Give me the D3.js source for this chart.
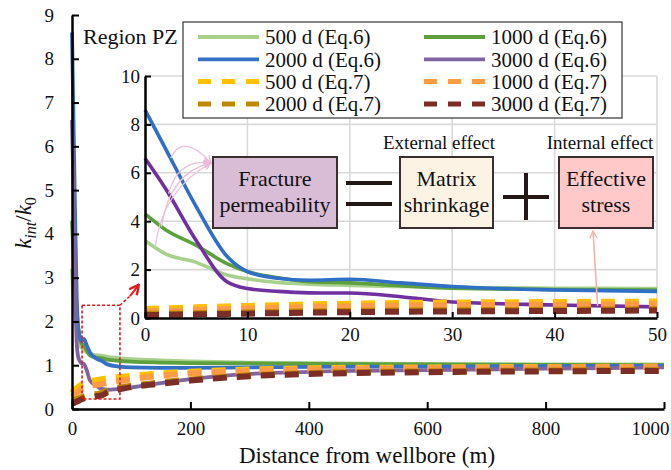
<!DOCTYPE html>
<html>
<head>
<meta charset="utf-8">
<script src="https://cdn.jsdelivr.net/npm/d3@7"></script>
</head>
<body style="margin:0">
<div id="wrapper"></div>
<script>
// ---- data ----
const distance = [0, 2, 5, 8, 10, 13, 16, 20, 25, 30, 40, 50, 60, 80, 100, 150, 200, 300, 400, 600, 800, 1000];

const eq6_500d  = [3.2, 2.65, 2.3, 1.78, 1.62, 1.47, 1.4, 1.35, 1.3, 1.26, 1.23, 1.22, 1.19, 1.16, 1.14, 1.11, 1.09, 1.06, 1.05, 1.03, 1.02, 1.02];
const eq6_1000d = [4.3, 3.65, 3.0, 2.25, 1.92, 1.66, 1.5, 1.45, 1.33, 1.23, 1.18, 1.16, 1.13, 1.1, 1.08, 1.06, 1.05, 1.04, 1.03, 1.02, 1.01, 1.0];
const eq6_2000d = [8.6, 7.0, 4.6, 2.55, 1.92, 1.64, 1.56, 1.6, 1.45, 1.3, 1.16, 1.1, 1.02, 0.97, 0.95, 0.94, 0.94, 0.95, 0.96, 0.97, 0.98, 0.99];
const eq6_3000d = [6.6, 5.35, 3.2, 1.5, 1.22, 1.1, 1.04, 1.03, 0.88, 0.66, 0.54, 0.46, 0.44, 0.46, 0.49, 0.59, 0.68, 0.8, 0.85, 0.89, 0.92, 0.95];

const eq7_500d  = [0.37, 0.4, 0.44, 0.48, 0.5, 0.53, 0.56, 0.59, 0.62, 0.64, 0.66, 0.68, 0.7, 0.73, 0.76, 0.81, 0.85, 0.9, 0.93, 0.95, 0.96, 0.97];
const eq7_1000d = [0.27, 0.29, 0.33, 0.37, 0.39, 0.42, 0.45, 0.48, 0.51, 0.53, 0.55, 0.57, 0.6, 0.64, 0.68, 0.76, 0.81, 0.87, 0.9, 0.93, 0.95, 0.96];
const eq7_2000d = [0.17, 0.18, 0.2, 0.22, 0.23, 0.25, 0.27, 0.29, 0.31, 0.32, 0.34, 0.36, 0.42, 0.49, 0.53, 0.61, 0.67, 0.77, 0.82, 0.86, 0.88, 0.89];
const eq7_3000d = [0.12, 0.13, 0.15, 0.17, 0.18, 0.2, 0.22, 0.24, 0.26, 0.27, 0.29, 0.31, 0.38, 0.45, 0.5, 0.58, 0.65, 0.75, 0.8, 0.84, 0.86, 0.87];

const seriesNames = ["500 d (Eq.6)", "1000 d (Eq.6)", "2000 d (Eq.6)", "3000 d (Eq.6)",
                     "500 d (Eq.7)", "1000 d (Eq.7)", "2000 d (Eq.7)", "3000 d (Eq.7)"];
const seriesValues = [eq6_500d, eq6_1000d, eq6_2000d, eq6_3000d, eq7_500d, eq7_1000d, eq7_2000d, eq7_3000d];
const seriesColors = ["#a9d18e", "#5fa03e", "#3570c4", "#8064a2", "#ffc000", "#ff9b45", "#c08a00", "#7b2d26"];
const insetColors  = ["#a9d18e", "#5fa03e", "#2f6fc6", "#7030a0", "#ffc000", "#ff9b45", "#c08a00", "#7b2d26"];

const mainXTicks = [0, 200, 400, 600, 800, 1000];
const mainYTicks = [0, 1, 2, 3, 4, 5, 6, 7, 8, 9];
const insetXTicks = [0, 10, 20, 30, 40, 50];
const insetYTicks = [0, 2, 4, 6, 8, 10];

// ---- layout ----
const width = 671, height = 470;
const FONT = "'Liberation Serif'";

const svg = d3.select("#wrapper").append("svg")
  .attr("width", width)
  .attr("height", height);

// every text gets the serif face set directly
function label(parent, size) {
  return parent.append("text")
    .style("font-family", FONT)
    .attr("font-size", size)
    .attr("fill", "#111");
}

const defs = svg.append("defs");
function addHead(id, color, size, sw) {
  defs.append("marker")
    .attr("id", id)
    .attr("viewBox", "0 0 10 10")
    .attr("refX", 9).attr("refY", 5)
    .attr("markerWidth", size).attr("markerHeight", size)
    .attr("markerUnits", "userSpaceOnUse")
    .attr("orient", "auto")
    .append("path")
    .attr("d", "M1,1 L9,5 L1,9")
    .attr("fill", "none")
    .attr("stroke", color)
    .attr("stroke-width", sw);
}
addHead("pinkHead", "#e9b6d6", 9, 1.4);
addHead("salmonHead", "#f6b1aa", 9, 1.4);
addHead("redHead", "#e31a1a", 12, 2);

// main scales
const x = d3.scaleLinear().domain([0, 1000]).range([72, 664]);
const y = d3.scaleLinear().domain([0, 9]).range([409, 15]);

// inset scales
const xi = d3.scaleLinear().domain([0, 50]).range([145, 657]);
const yi = d3.scaleLinear().domain([0, 10]).range([318, 76]);

const rows = distance.map((d, i) => ({ d, v: seriesValues.map(s => s[i]) }));

function styleAxis(g, size) {
  g.attr("font-family", null).attr("font-size", null);
  g.select(".domain").attr("stroke", "#000").attr("stroke-width", 2.5);
  g.selectAll(".tick line").attr("stroke", "#000").attr("stroke-width", 2);
  g.selectAll(".tick text")
    .attr("font-size", size)
    .style("font-family", FONT)
    .attr("fill", "#111");
}

// ---- main curves ----
const mainG = svg.append("g");
seriesValues.forEach((vals, k) => {
  const dashed = k >= 4;
  const line = d3.line()
    .x(r => x(r.d))
    .y(r => y(r.v[k]))
    .curve(d3.curveMonotoneX);
  mainG.append("path")
    .attr("d", line(rows))
    .attr("fill", "none")
    .attr("stroke", seriesColors[k])
    .attr("stroke-width", dashed ? 6 : 3.8)
    .attr("stroke-dasharray", dashed ? "14,10" : null)
    .attr("stroke-linejoin", "round");
});

// main axes
const xAxis = d3.axisBottom(x).tickValues(mainXTicks).tickFormat(d3.format("d"))
  .tickSizeInner(-7).tickSizeOuter(0).tickPadding(13);
const gx = svg.append("g").attr("transform", `translate(0,${y(0)})`).call(xAxis);
const yAxis = d3.axisLeft(y).tickValues(mainYTicks).tickFormat(d3.format("d"))
  .tickSizeInner(-7).tickSizeOuter(0).tickPadding(18);
const gy = svg.append("g").attr("transform", `translate(${x(0)},0)`).call(yAxis);
styleAxis(gx, 19);
styleAxis(gy, 19);
// last label sits left of its tick so it stays inside the frame
gx.selectAll(".tick text").filter(d => d === 1000).attr("dx", -14);

label(svg, 23)
  .attr("x", 367).attr("y", 463)
  .attr("text-anchor", "middle")
  .text("Distance from wellbore (m)");

const ylab = label(svg, 23)
  .attr("transform", "translate(31,223) rotate(-90)")
  .attr("text-anchor", "middle");
ylab.append("tspan").attr("font-style", "italic").text("k");
ylab.append("tspan").attr("font-style", "italic").attr("font-size", 16).attr("dy", 5).text("int");
ylab.append("tspan").attr("dy", -5).text("/");
ylab.append("tspan").attr("font-style", "italic").text("k");
ylab.append("tspan").attr("font-size", 16).attr("dy", 5).text("0");

// red dashed zoom box + arrow
svg.append("rect")
  .attr("x", x(17)).attr("y", y(2.37))
  .attr("width", x(81) - x(17)).attr("height", y(0.23) - y(2.37))
  .attr("fill", "none")
  .attr("stroke", "#e31a1a")
  .attr("stroke-width", 1.6)
  .attr("stroke-dasharray", "3,2");
svg.append("line")
  .attr("x1", x(81)).attr("y1", y(2.37))
  .attr("x2", x(98)).attr("y2", y(2.58))
  .attr("stroke", "#e31a1a").attr("stroke-width", 1.6).attr("stroke-dasharray", "3,2");
svg.append("line")
  .attr("x1", x(98)).attr("y1", y(2.58))
  .attr("x2", x(113)).attr("y2", y(2.84))
  .attr("stroke", "#e31a1a").attr("stroke-width", 2)
  .attr("marker-end", "url(#redHead)");

// ---- inset ----
const insetG = svg.append("g");
insetG.append("rect")
  .attr("x", xi(0)).attr("y", yi(10))
  .attr("width", xi(50) - xi(0)).attr("height", yi(0) - yi(10))
  .attr("fill", "#fff");
insetG.selectAll(".vgrid").data(insetXTicks.slice(1)).join("line")
  .attr("x1", d => xi(d)).attr("x2", d => xi(d))
  .attr("y1", yi(0)).attr("y2", yi(10))
  .attr("stroke", "#d9d9d9").attr("stroke-width", 1.6);
insetG.selectAll(".hgrid").data(insetYTicks.slice(1)).join("line")
  .attr("x1", xi(0)).attr("x2", xi(50))
  .attr("y1", d => yi(d)).attr("y2", d => yi(d))
  .attr("stroke", "#d9d9d9").attr("stroke-width", 1.6);

const insetRows = rows.filter(r => r.d <= 50);
seriesValues.forEach((vals, k) => {
  const dashed = k >= 4;
  const line = d3.line()
    .x(r => xi(r.d))
    .y(r => yi(r.v[k]))
    .curve(d3.curveMonotoneX);
  insetG.append("path")
    .attr("d", line(insetRows))
    .attr("fill", "none")
    .attr("stroke", insetColors[k])
    .attr("stroke-width", dashed ? 6 : 3.6)
    .attr("stroke-dasharray", dashed ? "14,10" : null)
    .attr("stroke-linejoin", "round");
});

const xiAxis = d3.axisBottom(xi).tickValues(insetXTicks).tickFormat(d3.format("d"))
  .tickSizeInner(-6).tickSizeOuter(0).tickPadding(10);
const gxi = insetG.append("g").attr("transform", `translate(0,${yi(0)})`).call(xiAxis);
const yiAxis = d3.axisLeft(yi).tickValues(insetYTicks).tickFormat(d3.format("d"))
  .tickSizeInner(-6).tickSizeOuter(0).tickPadding(5);
const gyi = insetG.append("g").attr("transform", `translate(${xi(0)},0)`).call(yiAxis);
styleAxis(gxi, 19);
styleAxis(gyi, 19);

// ---- region label + legend ----
label(svg, 22)
  .attr("x", 83).attr("y", 44)
  .text("Region PZ");

const legend = svg.append("g");
legend.append("rect")
  .attr("x", 183).attr("y", 22)
  .attr("width", 439).attr("height", 96)
  .attr("fill", "#fff")
  .attr("stroke", "#333")
  .attr("stroke-width", 1.2);
const legendItems = legend.selectAll(".item").data(seriesNames).join("g")
  .attr("transform", (d, i) => `translate(${i % 2 === 0 ? 198 : 424},${37 + Math.floor(i / 2) * 22.3})`);
legendItems.append("line")
  .attr("x1", 0).attr("x2", 61)
  .attr("stroke", (d, i) => seriesColors[i])
  .attr("stroke-width", (d, i) => i >= 4 ? 5 : 3.8)
  .attr("stroke-dasharray", (d, i) => i >= 4 ? "13,11" : null);
legendItems.append("text")
  .style("font-family", FONT)
  .attr("fill", "#111")
  .attr("x", 67).attr("dy", "0.35em")
  .attr("font-size", 21)
  .text(d => d);

// ---- diagram ----
const diag = svg.append("g");
const boxes = [
  { x: 213, y: 157, w: 124, h: 71, fill: "#d9bdd6", lines: ["Fracture", "permeability"] },
  { x: 400, y: 157, w: 93, h: 71, fill: "#fdf3e4", lines: ["Matrix", "shrinkage"] },
  { x: 559, y: 157, w: 94, h: 71, fill: "#ffc9c9", lines: ["Effective", "stress"] }
];
boxes.forEach(b => {
  diag.append("rect")
    .attr("x", b.x).attr("y", b.y).attr("width", b.w).attr("height", b.h)
    .attr("fill", b.fill).attr("stroke", "#3a2e2e").attr("stroke-width", 2);
  b.lines.forEach((t, j) => {
    label(diag, 22)
      .attr("x", b.x + b.w / 2).attr("y", b.y + 29 + j * 26)
      .attr("text-anchor", "middle")
      .text(t);
  });
});
label(diag, 19).attr("x", 439).attr("y", 149).attr("text-anchor", "middle").text("External effect");
label(diag, 19).attr("x", 600).attr("y", 149).attr("text-anchor", "middle").text("Internal effect");

// equals and plus
diag.append("rect").attr("x", 346).attr("y", 181).attr("width", 46).attr("height", 4).attr("fill", "#231815");
diag.append("rect").attr("x", 346).attr("y", 202).attr("width", 46).attr("height", 4).attr("fill", "#231815");
diag.append("rect").attr("x", 503).attr("y", 195).attr("width", 46).attr("height", 4).attr("fill", "#231815");
diag.append("rect").attr("x", 524).attr("y", 173).attr("width", 4).attr("height", 47).attr("fill", "#231815");

// pink arrows from curves to fracture box
const arrowStarts = [
  { d: 1.0, k: 0, c: [162, 190] },
  { d: 1.6, k: 1, c: [170, 172] },
  { d: 2.3, k: 3, c: [178, 158] },
  { d: 2.5, k: 2, c: [183, 132] }
];
arrowStarts.forEach(a => {
  const v = d3.scaleLinear().domain(distance).range(seriesValues[a.k])(a.d);
  diag.append("path")
    .attr("d", `M${xi(a.d)},${yi(v)} Q${a.c[0]},${a.c[1]} 211,163`)
    .attr("fill", "none")
    .attr("stroke", "#ecbfdc")
    .attr("stroke-width", 1.3)
    .attr("marker-end", "url(#pinkHead)");
});
diag.append("line")
  .attr("x1", xi(44.2)).attr("y1", yi(0.5))
  .attr("x2", 593).attr("y2", 231)
  .attr("stroke", "#f6b1aa").attr("stroke-width", 1.6)
  .attr("marker-end", "url(#salmonHead)");
</script>
</body>
</html>
